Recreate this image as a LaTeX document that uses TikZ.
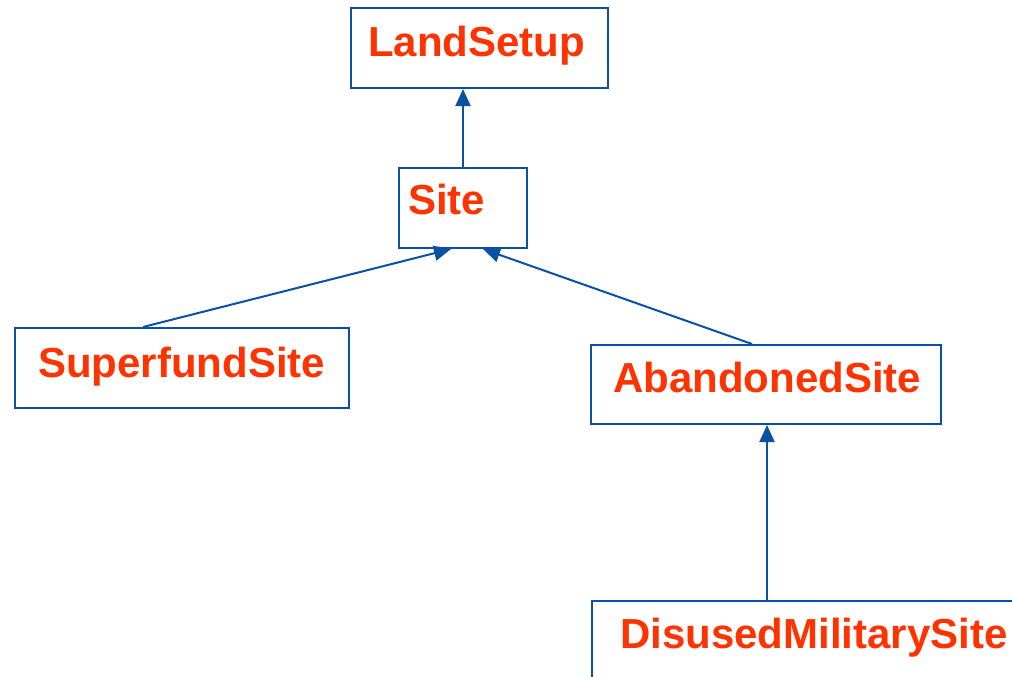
\documentclass[tikz,border=0pt]{standalone}
\usepackage{fontspec}
\setmainfont{Liberation Sans}
\usetikzlibrary{arrows.meta}
\definecolor{umlblue}{RGB}{10,80,165}
\definecolor{umlred}{RGB}{255,51,0}
\begin{document}
\begin{tikzpicture}[x=1pt,y=-1pt,
  box/.style={draw=umlblue, line width=2pt, fill=white, rectangle, inner sep=0pt},
  lbl/.style={text=umlred, font=\fontsize{42}{46}\selectfont\bfseries, inner sep=0pt, anchor=base west},
  arr/.style={draw=umlblue, line width=2pt, -{Triangle[length=17pt,width=15pt]}}]
\clip (0,0) rectangle (1012,677);
\fill[white] (0,0) rectangle (1012,677);
% boxes
\node[box, minimum width=257pt, minimum height=80pt] (land) at (479.5,48) {};
\node[box, minimum width=128pt, minimum height=80pt] (site) at (463,208) {};
\node[box, minimum width=334pt, minimum height=80pt] (sup) at (182,368) {};
\node[box, minimum width=350pt, minimum height=79pt] (aband) at (766,384.5) {};
\node[box, minimum width=500pt, minimum height=80pt] (dis) at (842,641) {};
% labels
\node[lbl] (landt) at (368,57) {LandSetup};
\node[lbl] (sitet) at (408,214) {Site};
\node[lbl] (supt) at (38,377) {SuperfundSite};
\node[lbl] (abandt) at (613,392) {AbandonedSite};
\node[lbl] (dist) at (620,648) {DisusedMilitarySite};
% connectors
\draw[arr] (site.north) -- (site.north |- land.south);
\draw[arr] ([xshift=-39pt]sup.north) -- ([xshift=-12pt]site.south);
\draw[arr] ([xshift=-14pt]aband.north) -- ([xshift=20pt]site.south);
\draw[arr] ([xshift=-75pt]dis.north) -- ([xshift=-75pt]dis.north |- aband.south);
\end{tikzpicture}
\end{document}
